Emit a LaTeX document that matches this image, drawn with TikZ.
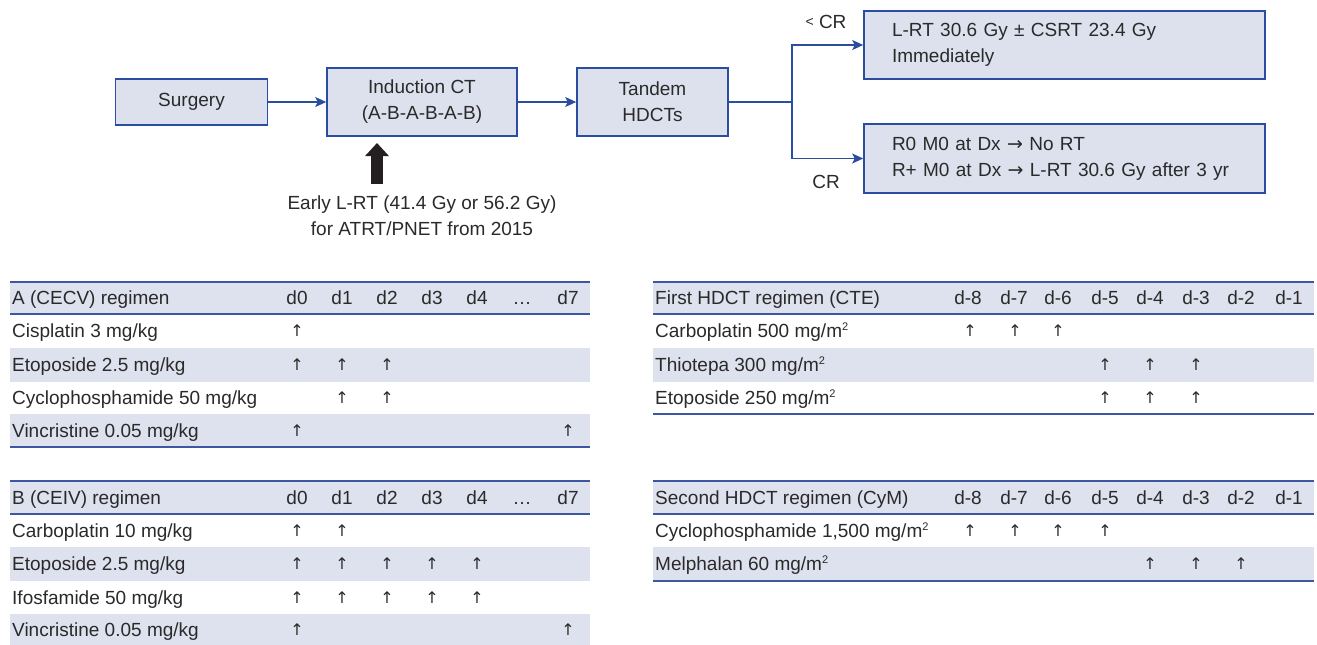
\documentclass[tikz,border=0pt]{standalone}
\usepackage{fontspec}
\setmainfont{Liberation Sans}
\newfontfamily\symfont{DejaVu Sans}
\usetikzlibrary{arrows.meta}
\definecolor{boxfill}{HTML}{DDE1EE}
\definecolor{boxline}{HTML}{2B4DA0}
\definecolor{rowfill}{HTML}{DEE1EE}
\definecolor{rulec}{HTML}{3D57A3}
\definecolor{txt}{HTML}{2A2A2A}
\definecolor{blk}{HTML}{231F20}
\newcommand{\sqm}{m{\fontsize{11}{11}\selectfont\raisebox{7pt}{2}}}
\begin{document}
\begin{tikzpicture}[x=1pt,y=-1pt,
  fs/.style={font=\fontsize{19}{26}\selectfont},
  flowbox/.style={draw=boxline, line width=1.6pt, fill=boxfill, text=txt, fs, align=center, inner sep=0pt},
  conn/.style={draw=boxline, line width=1.4pt},
  arr/.style={conn, -{Stealth[length=11pt,width=10pt,inset=2.5pt]}},
  cell/.style={fs, text=txt, inner sep=0pt, text height=13.5pt, text depth=0pt},
  lab/.style={cell, anchor=west},
  hd/.style={cell, anchor=center},
  tick/.style={font=\symfont\fontsize{16}{16}\selectfont, text=txt, inner sep=0pt},
  rulel/.style={draw=rulec, line width=1.8pt},
  band/.style={fill=rowfill}
]
\useasboundingbox (0,0) rectangle (1317,645);
\fill[white] (0,0) rectangle (1317,645);

% ---------- flow chart ----------
\node[flowbox, minimum width=152pt, minimum height=46pt] (surg) at (191.5,102) {Surgery};
\node[flowbox, minimum width=190pt, minimum height=68pt] (ind) at (422,102) {Induction CT\\(A-B-A-B-A-B)};
\node[flowbox, minimum width=151pt, minimum height=68pt] (tan) at (652.5,102) {Tandem\\HDCTs};
\node[flowbox, align=left, text width=345pt, inner xsep=28pt, minimum height=68pt] (up) at (1064.5,45) {L-RT 30.6 Gy ± CSRT 23.4 Gy\\Immediately};
\node[flowbox, align=left, text width=345pt, inner xsep=28pt, minimum height=69pt] (low) at (1064.5,158.5) {R0 M0 at Dx {\symfont →} No RT\\R+ M0 at Dx {\symfont →} L-RT 30.6 Gy after 3 yr};

\draw[arr] (surg.east) -- (ind.west);
\draw[arr] (ind.east) -- (tan.west);
\coordinate (br) at (792,102);
\draw[conn] (tan.east) -- (br);
\draw[arr] (br) |- (up.west);
\draw[arr] (br) |- (low.west);

\node[hd] (lcr) at (826,22) {{\fontsize{14}{14}\selectfont\raisebox{2pt}{<}} CR};
\node[hd] (cr) at (826,182) {CR};

\node[fs, text=txt, align=center, inner sep=0pt] (early) at (422,216) {Early L-RT (41.4 Gy or 56.2 Gy)\\for ATRT/PNET from 2015};
\coordinate (ebase) at (377,184);
\coordinate (etip) at (377,143);
\draw[blk, line width=12pt, -{Triangle[width=23pt,length=13pt]}] (ebase) -- (etip);

% ---------- Table A ----------
\fill[band] (10,282) rectangle (590,314);
\fill[band] (10,348) rectangle (590,382);
\fill[band] (10,414) rectangle (590,447);
\draw[rulel] (10,282) -- (590,282);
\draw[rulel] (10,314) -- (590,314);
\draw[rulel] (10,447) -- (590,447);
\node[lab] (Ah) at (12,298) {A (CECV) regimen};
\foreach \x/\t [count=\i] in {297/d0,342/d1,387/d2,432/d3,477/d4,522/…,568/d7}
  \node[hd] (Ac\i) at (\x,298) {\t};
\node[lab] (Ar1) at (12,331) {Cisplatin 3 mg/kg};
\node[lab] (Ar2) at (12,365) {Etoposide 2.5 mg/kg};
\node[lab] (Ar3) at (12,398) {Cyclophosphamide 50 mg/kg};
\node[lab] (Ar4) at (12,431) {Vincristine 0.05 mg/kg};
\foreach \x in {297} \node[tick] (Aa1-\x) at (\x,331) {↑};
\foreach \x in {297,342,387} \node[tick] (Aa2-\x) at (\x,365) {↑};
\foreach \x in {342,387} \node[tick] (Aa3-\x) at (\x,398) {↑};
\foreach \x in {297,568} \node[tick] (Aa4-\x) at (\x,431) {↑};

% ---------- Table B ----------
\fill[band] (10,481) rectangle (590,514);
\fill[band] (10,547) rectangle (590,581);
\fill[band] (10,614) rectangle (590,645);
\draw[rulel] (10,481) -- (590,481);
\draw[rulel] (10,514) -- (590,514);
\node[lab] (Bh) at (12,497.5) {B (CEIV) regimen};
\foreach \x/\t [count=\i] in {297/d0,342/d1,387/d2,432/d3,477/d4,522/…,568/d7}
  \node[hd] (Bc\i) at (\x,497.5) {\t};
\node[lab] (Br1) at (12,530.5) {Carboplatin 10 mg/kg};
\node[lab] (Br2) at (12,564) {Etoposide 2.5 mg/kg};
\node[lab] (Br3) at (12,597.5) {Ifosfamide 50 mg/kg};
\node[lab] (Br4) at (12,630) {Vincristine 0.05 mg/kg};
\foreach \x in {297,342} \node[tick] (Ba1-\x) at (\x,530.5) {↑};
\foreach \x in {297,342,387,432,477} \node[tick] (Ba2-\x) at (\x,564) {↑};
\foreach \x in {297,342,387,432,477} \node[tick] (Ba3-\x) at (\x,597.5) {↑};
\foreach \x in {297,568} \node[tick] (Ba4-\x) at (\x,630) {↑};

% ---------- Table C ----------
\fill[band] (653,282) rectangle (1314,314);
\fill[band] (653,348) rectangle (1314,382);
\draw[rulel] (653,282) -- (1314,282);
\draw[rulel] (653,314) -- (1314,314);
\draw[rulel] (653,414) -- (1314,414);
\node[lab] (Ch) at (655,298) {First HDCT regimen (CTE)};
\foreach \x/\t [count=\i] in {968/d-8,1014/d-7,1058/d-6,1105/d-5,1150/d-4,1196/d-3,1241/d-2,1289/d-1}
  \node[hd] (Cc\i) at (\x,298) {\t};
\node[lab] (Cr1) at (655,331) {Carboplatin 500 mg/\sqm};
\node[lab] (Cr2) at (655,365) {Thiotepa 300 mg/\sqm};
\node[lab] (Cr3) at (655,398) {Etoposide 250 mg/\sqm};
\foreach \x in {970,1015,1058} \node[tick] (Ca1-\x) at (\x,331) {↑};
\foreach \x in {1105,1150,1196} \node[tick] (Ca2-\x) at (\x,365) {↑};
\foreach \x in {1105,1150,1196} \node[tick] (Ca3-\x) at (\x,398) {↑};

% ---------- Table D ----------
\fill[band] (653,481) rectangle (1314,514);
\fill[band] (653,547) rectangle (1314,581);
\draw[rulel] (653,481) -- (1314,481);
\draw[rulel] (653,514) -- (1314,514);
\draw[rulel] (653,581) -- (1314,581);
\node[lab] (Dh) at (655,497.5) {Second HDCT regimen (CyM)};
\foreach \x/\t [count=\i] in {968/d-8,1014/d-7,1058/d-6,1105/d-5,1150/d-4,1196/d-3,1241/d-2,1289/d-1}
  \node[hd] (Dc\i) at (\x,497.5) {\t};
\node[lab] (Dr1) at (655,530.5) {Cyclophosphamide 1,500 mg/\sqm};
\node[lab] (Dr2) at (655,564) {Melphalan 60 mg/\sqm};
\foreach \x in {970,1015,1058,1105} \node[tick] (Da1-\x) at (\x,530.5) {↑};
\foreach \x in {1150,1196,1241} \node[tick] (Da2-\x) at (\x,564) {↑};
\end{tikzpicture}
\end{document}
